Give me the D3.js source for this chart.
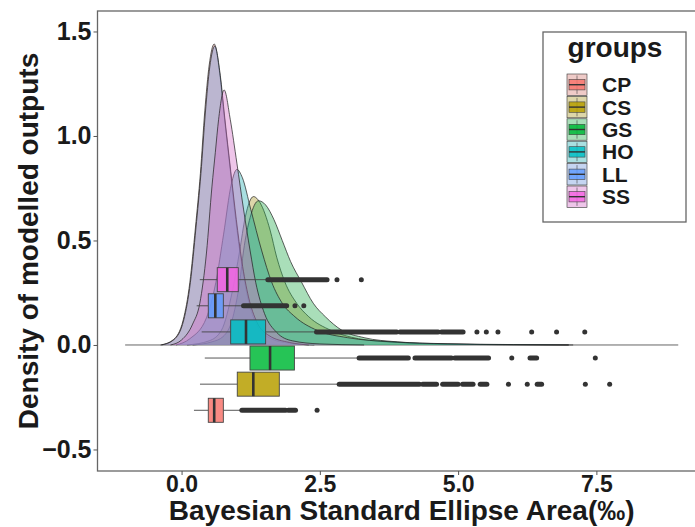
<!DOCTYPE html>
<html>
<head>
<meta charset="utf-8">
<script src="https://cdn.jsdelivr.net/npm/d3@7"></script>
<style>
  body { margin: 0; background: #fff; }
  text { font-family: "Liberation Sans", Arial, sans-serif; font-weight: bold; fill: #1a1a1a; }
</style>
</head>
<body>
<svg id="chart" width="695" height="527"></svg>
<script>
// groups and their colours (ggplot default hues)
const groups = ['CP', 'CS', 'GS', 'HO', 'LL', 'SS'];
const colors = ['#F8766D', '#B79F00', '#00BA38', '#00BFC4', '#619CFF', '#F564E3'];

// density curves: [SEA, density]
const densCP = [[-0.38,0],[-0.15,0.025],[0.03,0.12],[0.15,0.3],[0.25,0.56],[0.34,0.82],[0.42,1.12],[0.5,1.34],[0.59,1.44],[0.69,1.3],[0.77,1.1],[0.88,0.84],[0.98,0.6],[1.08,0.4],[1.2,0.22],[1.35,0.1],[1.55,0.04],[1.9,0.01],[2.4,0]];
const densCS = [[0.1,0],[0.5,0.02],[0.72,0.07],[0.92,0.26],[1.05,0.45],[1.15,0.61],[1.3,0.71],[1.42,0.68],[1.6,0.55],[1.72,0.42],[1.87,0.3],[2.08,0.2],[2.3,0.135],[2.7,0.07],[3.2,0.03],[3.9,0.012],[4.8,0.004],[6.0,0.001],[7.0,0]];
const densGS = [[0.2,0],[0.55,0.015],[0.75,0.04],[0.93,0.135],[1.05,0.3],[1.12,0.45],[1.24,0.61],[1.39,0.69],[1.52,0.67],[1.67,0.6],[1.82,0.5],[1.97,0.4],[2.17,0.3],[2.38,0.2],[2.6,0.135],[2.9,0.07],[3.3,0.035],[3.9,0.015],[4.8,0.005],[5.8,0.0015],[7.0,0]];
const densHO = [[-0.1,0],[0.15,0.03],[0.45,0.13],[0.62,0.3],[0.76,0.53],[0.9,0.77],[1.0,0.84],[1.1,0.8],[1.25,0.65],[1.45,0.45],[1.63,0.3],[1.82,0.2],[2.05,0.135],[2.45,0.07],[3.0,0.035],[3.8,0.015],[4.8,0.006],[6.0,0.002],[7.08,0]];
const densLL = [[-0.36,0],[-0.14,0.025],[0.04,0.12],[0.16,0.3],[0.26,0.56],[0.35,0.82],[0.43,1.11],[0.51,1.33],[0.6,1.43],[0.7,1.29],[0.78,1.09],[0.89,0.83],[0.99,0.6],[1.09,0.4],[1.21,0.23],[1.36,0.11],[1.58,0.045],[1.95,0.012],[2.3,0]];
const densSS = [[-0.2,0],[0.0,0.024],[0.2,0.1],[0.33,0.2],[0.45,0.44],[0.55,0.76],[0.61,0.92],[0.67,1.08],[0.77,1.22],[0.88,1.08],[1.0,0.87],[1.12,0.65],[1.24,0.45],[1.34,0.3],[1.5,0.15],[1.72,0.06],[2.0,0.02],[2.5,0.005],[3.3,0]];
const densities = [densCP, densCS, densGS, densHO, densLL, densSS];

// boxplot statistics, in group order
const boxPos   = [-0.3125, -0.1875, -0.0625, 0.0625, 0.1875, 0.3125];
const whiskLo  = [0.224, 0.333, 0.42, 0.364, 0.273, 0.33];
const q1       = [0.483, 1.007, 1.237, 0.888, 0.483, 0.645];
const medians  = [0.59, 1.297, 1.60, 1.165, 0.61, 0.826];
const q3       = [0.755, 1.767, 2.04, 1.52, 0.755, 1.025];
const whiskHi  = [1.087, 2.846, 3.21, 2.44, 1.116, 1.56];

// outliers: dense runs (overlapping dots) and single points
const outlierRuns = [
  [[1.09, 1.88], [1.93, 2.06]],
  [[2.85, 4.30], [4.36, 4.61], [4.72, 5.00], [5.08, 5.27], [5.40, 5.52], [6.43, 6.51]],
  [[3.21, 4.10], [4.22, 4.88], [4.94, 5.55], [6.30, 6.42]],
  [[2.44, 3.89], [3.95, 4.64], [4.70, 5.09]],
  [[1.12, 1.90]],
  [[1.56, 2.63]]
];
const outlierPoints = [
  [2.45],
  [5.91, 6.25, 7.30, 7.74],
  [5.97, 7.48],
  [5.34, 5.51, 5.72, 6.33, 6.78, 7.29],
  [2.05, 2.21],
  [2.81, 3.25]
];

const baseRange = [-1.02, 8.98];
const xTicks = [0, 2.5, 5, 7.5];
const yTicks = [-0.5, 0, 0.5, 1.0, 1.5];

const svg = d3.select('#chart');
const x = d3.scaleLinear().domain([-1.52, 9.48]).range([97.5, 705.9]);
const y = d3.scaleLinear().domain([-0.603, 1.598]).range([471, 11]);
const color = d3.scaleOrdinal().domain(groups).range(colors);
// density fills come out duller than the box colours
const fillColor = g => d3.interpolateRgb(color(g), '#8a8a8a')(0.3);
const fillAlpha = 0.4;
const boxH = 0.115;

const plot = svg.append('g');

// grey base line
plot.append('line')
  .attr('x1', x(baseRange[0])).attr('x2', x(baseRange[1]))
  .attr('y1', y(0)).attr('y2', y(0))
  .attr('stroke', '#555').attr('stroke-width', 0.9);

// densities
const area = d3.area().x(d => x(d[0])).y0(y(0)).y1(d => y(d[1])).curve(d3.curveMonotoneX);
const line = d3.line().x(d => x(d[0])).y(d => y(d[1])).curve(d3.curveMonotoneX);

groups.forEach((g, i) => {
  plot.append('path')
    .attr('d', area(densities[i]))
    .attr('fill', fillColor(g)).attr('fill-opacity', fillAlpha);
  plot.append('path')
    .attr('d', line(densities[i]))
    .attr('fill', 'none').attr('stroke', '#222').attr('stroke-width', 0.85).attr('stroke-opacity', 0.85);
});

// boxplots
const boxes = groups.map((g, i) => ({
  g, pos: boxPos[i], lo: whiskLo[i], q1: q1[i], med: medians[i], q3: q3[i], hi: whiskHi[i],
  runs: outlierRuns[i], pts: outlierPoints[i]
}));

const bg = plot.append('g').selectAll('g').data(boxes).join('g');

bg.append('line')
  .attr('x1', d => x(d.lo)).attr('x2', d => x(d.q1))
  .attr('y1', d => y(d.pos)).attr('y2', d => y(d.pos))
  .attr('stroke', '#444').attr('stroke-width', 0.9);
bg.append('line')
  .attr('x1', d => x(d.q3)).attr('x2', d => x(d.hi))
  .attr('y1', d => y(d.pos)).attr('y2', d => y(d.pos))
  .attr('stroke', '#444').attr('stroke-width', 0.9);

bg.selectAll('line.run').data(d => d.runs.map(r => ({ r, pos: d.pos }))).join('line')
  .attr('class', 'run')
  .attr('x1', d => x(d.r[0])).attr('x2', d => x(d.r[1]))
  .attr('y1', d => y(d.pos)).attr('y2', d => y(d.pos))
  .attr('stroke', '#333').attr('stroke-width', 5).attr('stroke-linecap', 'round');

bg.selectAll('circle').data(d => d.pts.map(p => ({ p, pos: d.pos }))).join('circle')
  .attr('cx', d => x(d.p)).attr('cy', d => y(d.pos)).attr('r', 2.5)
  .attr('fill', '#333');

bg.append('rect')
  .attr('x', d => x(d.q1)).attr('width', d => x(d.q3) - x(d.q1))
  .attr('y', d => y(d.pos + boxH / 2)).attr('height', d => y(d.pos - boxH / 2) - y(d.pos + boxH / 2))
  .attr('fill', d => color(d.g)).attr('fill-opacity', 0.85)
  .attr('stroke', '#444').attr('stroke-width', 0.9);

bg.append('line')
  .attr('x1', d => x(d.med)).attr('x2', d => x(d.med))
  .attr('y1', d => y(d.pos + boxH / 2)).attr('y2', d => y(d.pos - boxH / 2))
  .attr('stroke', '#333').attr('stroke-width', 2.6);

// panel border (right edge falls outside the picture)
svg.append('rect')
  .attr('x', x.range()[0]).attr('y', y.range()[1])
  .attr('width', x.range()[1] - x.range()[0]).attr('height', y.range()[0] - y.range()[1])
  .attr('fill', 'none').attr('stroke', '#666').attr('stroke-width', 1.3);

// axes
const xAxis = svg.append('g')
  .attr('transform', `translate(0,${y.range()[0]})`)
  .call(d3.axisBottom(x).tickValues(xTicks).tickSize(4).tickFormat(d3.format('.1f')));
const yAxis = svg.append('g')
  .attr('transform', `translate(${x.range()[0]},0)`)
  .call(d3.axisLeft(y).tickValues(yTicks).tickSize(4).tickFormat(d3.format('.1f')));

[xAxis, yAxis].forEach(a => {
  a.select('.domain').remove();
  a.selectAll('.tick line').attr('stroke', '#555').attr('stroke-width', 1);
  a.selectAll('.tick text').attr('fill', '#1a1a1a')
    .style('font-family', '"Liberation Sans", Arial, sans-serif').style('font-weight', 'bold');
});
xAxis.selectAll('.tick text').style('font-size', '23px').attr('y', 5).attr('dy', '0.71em');
yAxis.selectAll('.tick text').style('font-size', '25px').attr('x', -6);

// axis titles
svg.append('text')
  .attr('x', (x.range()[0] + x.range()[1]) / 2).attr('y', 520)
  .attr('text-anchor', 'middle').style('font-size', '28px')
  .text('Bayesian Standard Ellipse Area(‰)');
svg.append('text')
  .attr('transform', `translate(38,${(y.range()[0] + y.range()[1]) / 2}) rotate(-90)`)
  .attr('text-anchor', 'middle').style('font-size', '28px')
  .text('Density of modelled outputs');

// legend
const legend = svg.append('g');
legend.append('rect')
  .attr('x', 543).attr('y', 32).attr('width', 143).attr('height', 190)
  .attr('fill', '#fff').attr('stroke', '#666').attr('stroke-width', 1.3);
legend.append('text')
  .attr('x', 615).attr('y', 57).attr('text-anchor', 'middle')
  .style('font-size', '28px').text('groups');

const keyW = 20, keyH = 22.4;
const keys = legend.selectAll('g.key').data(groups).join('g')
  .attr('class', 'key')
  .attr('transform', (g, i) => `translate(567,${74 + i * keyH})`);

keys.append('rect')
  .attr('width', keyW).attr('height', keyH - 1)
  .attr('fill', g => fillColor(g)).attr('fill-opacity', fillAlpha)
  .attr('stroke', '#333').attr('stroke-width', 0.6);
keys.append('line')
  .attr('x1', keyW / 2).attr('x2', keyW / 2).attr('y1', 1.5).attr('y2', keyH - 2.5)
  .attr('stroke', '#444').attr('stroke-width', 0.6);
keys.append('rect')
  .attr('x', 2).attr('y', 5.5).attr('width', keyW - 4).attr('height', keyH - 12)
  .attr('fill', g => color(g)).attr('fill-opacity', 0.85)
  .attr('stroke', '#444').attr('stroke-width', 0.6);
keys.append('line')
  .attr('x1', 2).attr('x2', keyW - 2).attr('y1', (keyH - 1) / 2).attr('y2', (keyH - 1) / 2)
  .attr('stroke', '#333').attr('stroke-width', 1.4);
keys.append('text')
  .attr('x', 35).attr('y', (keyH - 1) / 2).attr('dy', '0.36em')
  .style('font-size', '21px').text(g => g);
</script>
</body>
</html>
